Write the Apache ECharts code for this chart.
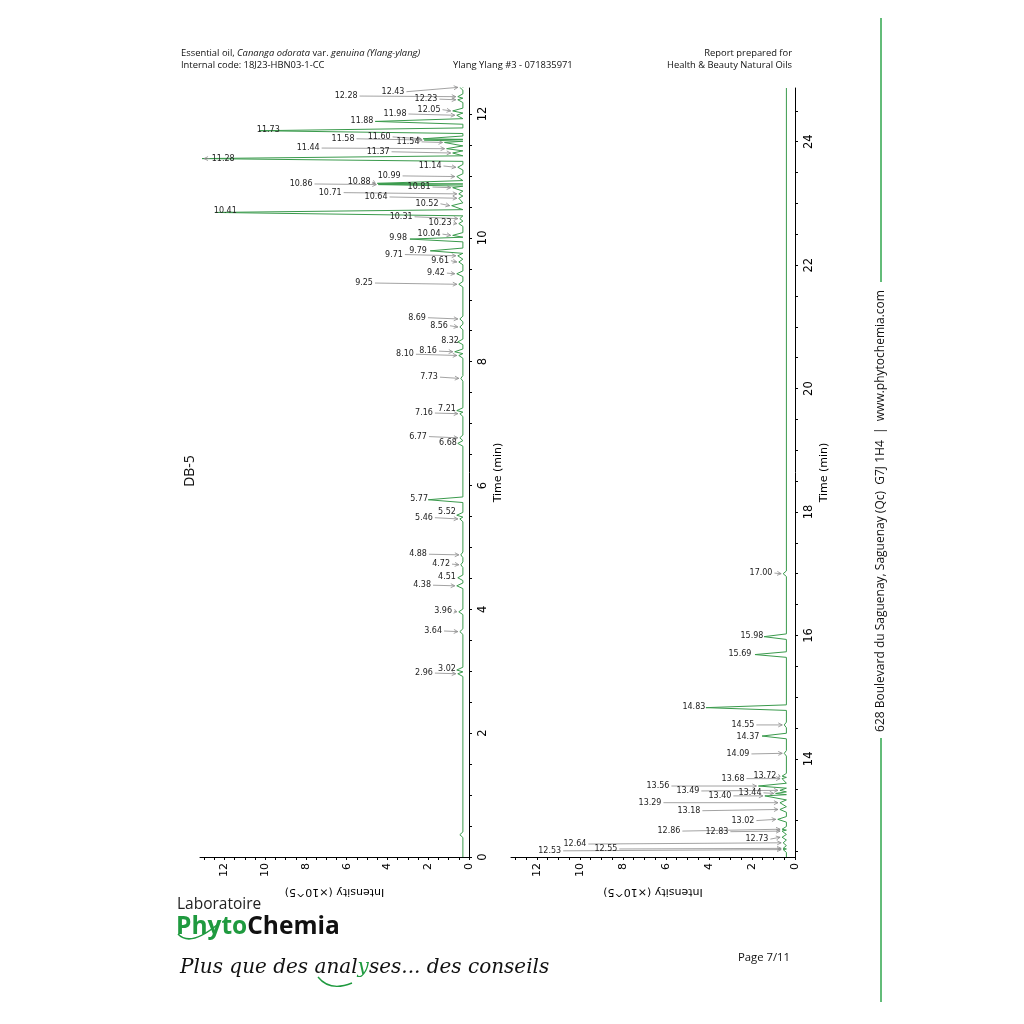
<!DOCTYPE html>
<html><head><meta charset="utf-8">
<script src="https://cdn.jsdelivr.net/npm/echarts@6/dist/echarts.min.js"></script>
<style>html,body{margin:0;padding:0;background:#fff}#c{width:1024px;height:1024px}</style>
</head><body><div id="c"></div>
<script>
// ---------- DATA ----------
// Panel A (0 - 12.4 min)
const peakTimesA = [0.36, 2.96, 3.02, 3.64, 3.96, 4.38, 4.51, 4.72, 4.88, 5.46, 5.52, 5.77, 6.68, 6.77, 7.16, 7.21, 7.73, 8.10, 8.16, 8.32, 8.56, 8.69, 9.25, 9.42, 9.61, 9.71, 9.79, 9.98, 10.04, 10.23, 10.31, 10.41, 10.52, 10.64, 10.71, 10.81, 10.86, 10.88, 10.99, 11.14, 11.28, 11.37, 11.44, 11.54, 11.58, 11.60, 11.73, 11.88, 11.98, 12.05, 12.23, 12.28, 12.43];
const peakHeightsA = [0.45, 0.55, 0.6, 0.45, 0.5, 0.6, 0.55, 0.4, 0.4, 0.45, 0.6, 2.0, 0.55, 0.45, 0.45, 0.6, 0.4, 0.5, 0.7, 0.55, 0.45, 0.45, 0.5, 0.6, 0.5, 0.55, 1.9, 2.9, 0.8, 0.5, 0.45, 12.45, 0.85, 0.5, 0.5, 0.8, 4.45, 4.5, 0.6, 0.55, 13.1, 0.8, 1.1, 1.2, 2.2, 2.25, 10.3, 4.6, 0.6, 0.8, 0.55, 0.55, 0.45];
const baselineA = 0.3;
// Panel B (12.4 - 24.9 min)
const peakTimesB = [12.53, 12.55, 12.64, 12.73, 12.83, 12.86, 13.02, 13.18, 13.29, 13.40, 13.44, 13.49, 13.56, 13.68, 13.72, 14.09, 14.37, 14.55, 14.83, 15.69, 15.98, 17.00];
const peakHeightsB = [0.55, 0.55, 0.55, 0.6, 0.6, 0.6, 0.8, 0.7, 0.7, 1.4, 0.9, 0.7, 1.7, 0.6, 0.6, 0.5, 1.53, 0.5, 4.14, 1.86, 1.44, 0.55];
const baselineB = 0.4;

// tick labels
const intensityTicks = [0, 2, 4, 6, 8, 10, 12];
const timeTicksA = [0, 2, 4, 6, 8, 10, 12];
const timeTicksB = [14, 16, 18, 20, 22, 24];

// ---------- LAYOUT (label placement, data units) ----------
const labelXA = [null, 2.21, 1.08, 1.76, 1.27, 2.3, 1.08, 1.37, 2.5, 2.21, 1.08, 2.45, 1.03, 2.5, 2.21, 1.08, 1.96, 3.14, 2.01, 0.93, 1.47, 2.55, 5.15, 1.62, 1.42, 3.68, 2.5, 3.48, 1.96, 1.42, 3.33, 11.96, 2.06, 4.56, 6.81, 2.45, 8.24, 5.39, 3.92, 1.91, 12.06, 4.46, 7.89, 2.99, 6.18, 4.41, 9.85, 5.25, 3.63, 1.96, 2.11, 6.03, 3.73];
const labelYA = [null, 2.97, 3.04, 3.65, 3.97, 4.39, 4.52, 4.73, 4.89, 5.48, 5.57, 5.78, 6.69, 6.79, 7.17, 7.24, 7.75, 8.12, 8.17, 8.34, 8.58, 8.71, 9.27, 9.43, 9.63, 9.73, 9.79, 10.0, 10.06, 10.24, 10.34, 10.43, 10.55, 10.66, 10.73, 10.82, 10.87, 10.90, 11.0, 11.16, 11.28, 11.39, 11.45, 11.55, 11.60, 11.63, 11.74, 11.89, 12.0, 12.07, 12.24, 12.29, 12.36];
const labelXB = [11.4, 8.79, 10.23, 1.77, 3.63, 5.86, 2.42, 4.93, 6.74, 3.49, 2.09, 4.98, 6.37, 2.88, 1.4, 2.65, 2.19, 2.42, 4.7, 2.56, 2.0, 1.58];
const labelYB = [12.51, 12.54, 12.62, 12.70, 12.82, 12.83, 13.0, 13.16, 13.29, 13.40, 13.45, 13.48, 13.56, 13.68, 13.72, 14.08, 14.36, 14.55, 14.84, 15.70, 15.99, 17.01];

// ---------- BUILD ----------
function steps(a, b, s) { const r = []; for (let v = a; v <= b + 1e-9; v += s) r.push(+v.toFixed(2)); return r; }
function buildTrace(times, heights, base, t0, t1) {
  const w = 0.045, pts = [[base, t0]];
  for (let i = 0; i < times.length; i++) {
    const t = times[i];
    const lw = i > 0 ? Math.min(w, (t - times[i - 1]) / 2) : w;
    const rw = i < times.length - 1 ? Math.min(w, (times[i + 1] - t) / 2) : w;
    pts.push([base, t - lw], [heights[i], t], [base, t + rw]);
  }
  pts.push([base, t1]);
  return pts;
}
const GREEN = '#3a9a4c';
const tickFont = 'DejaVu Sans';
function xAx(gi) {
  return {
    gridIndex: gi, type: 'value', inverse: true, min: 0, max: 13.2, position: 'bottom',
    axisLine: { show: true, onZero: false, lineStyle: { color: '#000', width: 1 } },
    axisTick: { show: true, customValues: steps(0, 13, 0.5), length: 3, lineStyle: { color: '#000' } },
    axisLabel: { customValues: intensityTicks, rotate: 90, fontSize: 11, color: '#000', margin: 6, fontFamily: tickFont },
    splitLine: { show: false },
    name: 'Intensity (×10^5)', nameLocation: 'middle', nameGap: 29, nameRotate: 180,
    nameTextStyle: { fontSize: 11, color: '#000', fontFamily: tickFont }
  };
}
function yAx(gi, min, max, ticks, labels) {
  return {
    gridIndex: gi, type: 'value', min: min, max: max, position: 'right', splitNumber: 6,
    axisLine: { show: true, onZero: false, lineStyle: { color: '#000', width: 1 } },
    axisTick: { show: true, customValues: ticks, length: 3, lineStyle: { color: '#000' } },
    axisLabel: { customValues: labels, rotate: 90, fontSize: 11.5, color: '#000', margin: 8, fontFamily: tickFont },
    splitLine: { show: false },
    name: 'Time (min)', nameLocation: 'middle', nameGap: 24, nameRotate: 90,
    nameTextStyle: { fontSize: 11, color: '#000', fontFamily: tickFont }
  };
}
const chart = echarts.init(document.getElementById('c'), null, { renderer: 'canvas' });
chart.setOption({
  backgroundColor: '#fff',
  animation: false,
  grid: [
    { left: 200, top: 88, width: 269, height: 769, containLabel: false },
    { left: 511, top: 88, width: 284, height: 769, containLabel: false }
  ],
  xAxis: [xAx(0), xAx(1)],
  yAxis: [yAx(0, 0, 12.42, steps(0, 12, 0.5), timeTicksA), yAx(1, 12.41, 24.87, steps(12.5, 24.5, 0.5), timeTicksB)],
  series: [
    { type: 'line', xAxisIndex: 0, yAxisIndex: 0, showSymbol: false, symbol: 'none', data: buildTrace(peakTimesA, peakHeightsA, baselineA, 0, 12.42), lineStyle: { color: GREEN, width: 1 }, z: 2 },
    { type: 'line', xAxisIndex: 1, yAxisIndex: 1, showSymbol: false, symbol: 'none', data: buildTrace(peakTimesB, peakHeightsB, baselineB, 12.41, 24.87), lineStyle: { color: GREEN, width: 1 }, z: 2 }
  ]
});

// ---------- annotations ----------
const ctx = document.createElement('canvas').getContext('2d');
const LFONT = '8px "DejaVu Sans"';
ctx.font = LFONT;
const g = [];
function annotate(si, times, heights, lx, ly) {
  for (let i = 0; i < times.length; i++) {
    if (lx[i] == null) continue;
    const txt = times[i].toFixed(2);
    const c = chart.convertToPixel({ seriesIndex: si }, [lx[i], ly[i]]);
    const a = chart.convertToPixel({ seriesIndex: si }, [heights[i], times[i]]);
    const w = ctx.measureText(txt).width;
    g.push({ type: 'text', x: c[0], y: c[1], z: 10, style: { text: txt, font: LFONT, fill: '#222', align: 'center', verticalAlign: 'middle' } });
    let sx, ex;
    if (a[0] >= c[0]) { sx = c[0] + w / 2 + 2; ex = a[0] - 2; if (ex - sx < 1) continue; }
    else { sx = c[0] - w / 2 - 2; ex = a[0] + 2; if (sx - ex < 1) continue; }
    const sy = c[1], ey = a[1];
    g.push({ type: 'line', z: 9, shape: { x1: sx, y1: sy, x2: ex, y2: ey }, style: { stroke: '#8c8c8c', lineWidth: 0.8 } });
    const dx = ex - sx, dy = ey - sy, L = Math.hypot(dx, dy) || 1, ux = dx / L, uy = dy / L;
    const hl = Math.min(4, L), hw = 2;
    g.push({ type: 'polyline', z: 9, shape: { points: [[ex - ux * hl - uy * hw, ey - uy * hl + ux * hw], [ex, ey], [ex - ux * hl + uy * hw, ey - uy * hl - ux * hw]] }, style: { stroke: '#8c8c8c', lineWidth: 0.8, fill: null } });
  }
}
annotate(0, peakTimesA, peakHeightsA, labelXA, labelYA);
annotate(1, peakTimesB, peakHeightsB, labelXB, labelYB);

// ---------- page texts ----------
const HF = '"Open Sans"';
function t(x, y, text, opt) {
  return Object.assign({ type: 'text', x: x, y: y, style: Object.assign({ text: text, font: '9px ' + HF, fill: '#111', verticalAlign: 'middle' }, opt || {}) });
}
g.push({
  type: 'text', x: 181, y: 53, style: {
    text: '{n|Essential oil, }{i|Cananga odorata}{n| var. }{i|genuina (Ylang-ylang)}', verticalAlign: 'middle',
    rich: { n: { font: '9.4px ' + HF, fill: '#111' }, i: { font: 'italic 9.4px ' + HF, fill: '#111' } }
  }
});
g.push(t(181, 65, 'Internal code: 18J23-HBN03-1-CC', { font: '9.4px ' + HF }));
g.push(t(453, 65, 'Ylang Ylang #3 - 071835971', { font: '9.4px ' + HF }));
g.push(t(792, 53, 'Report prepared for', { font: '9.4px ' + HF, align: 'right' }));
g.push(t(792, 65, 'Health & Beauty Natural Oils', { font: '9.4px ' + HF, align: 'right' }));
g.push({ type: 'text', x: 190, y: 471, rotation: Math.PI / 2, style: { text: 'DB-5', font: '14px ' + HF, fill: '#111', align: 'center', verticalAlign: 'middle' } });
g.push(t(790, 958, 'Page 7/11', { font: '11.3px ' + HF, align: 'right' }));
// side
g.push({ type: 'line', shape: { x1: 881, y1: 18, x2: 881, y2: 282 }, style: { stroke: '#2fa64d', lineWidth: 1.5 } });
g.push({ type: 'line', shape: { x1: 881, y1: 738, x2: 881, y2: 1002 }, style: { stroke: '#2fa64d', lineWidth: 1.5 } });
g.push({ type: 'text', x: 881, y: 511, rotation: Math.PI / 2, style: { text: '628 Boulevard du Saguenay, Saguenay (Qc)  G7J 1H4  |  www.phytochemia.com', font: '12px ' + HF, fill: '#111', align: 'center', verticalAlign: 'middle' } });
// logo
g.push(t(177, 905, 'Laboratoire', { font: '15.5px ' + HF, fill: '#222' }));
g.push({
  type: 'text', x: 176, y: 927, style: {
    text: '{g|Phyto}{k|Chemia}', verticalAlign: 'middle',
    rich: { g: { font: 'bold 24.5px ' + HF, fill: '#1f9a3f' }, k: { font: 'bold 24.5px ' + HF, fill: '#111' } }
  }
});
g.push({ type: 'bezierCurve', shape: { x1: 178, y1: 934, cpx1: 190, cpy1: 947, x2: 217, y2: 925 }, style: { stroke: '#1f9a3f', lineWidth: 1.6, fill: null } });
g.push({
  type: 'text', x: 180, y: 968, style: {
    text: 'Plus que des anal{g|y}ses... des conseils', font: 'italic 20px "DejaVu Serif"', fill: '#111', verticalAlign: 'middle',
    rich: { g: { font: 'italic 20px "DejaVu Serif"', fill: '#1f9a3f' } }
  }
});
g.push({ type: 'bezierCurve', shape: { x1: 318, y1: 977, cpx1: 330, cpy1: 992, x2: 352, y2: 983 }, style: { stroke: '#1f9a3f', lineWidth: 1.4, fill: null } });

chart.setOption({ graphic: g });
</script></body></html>
